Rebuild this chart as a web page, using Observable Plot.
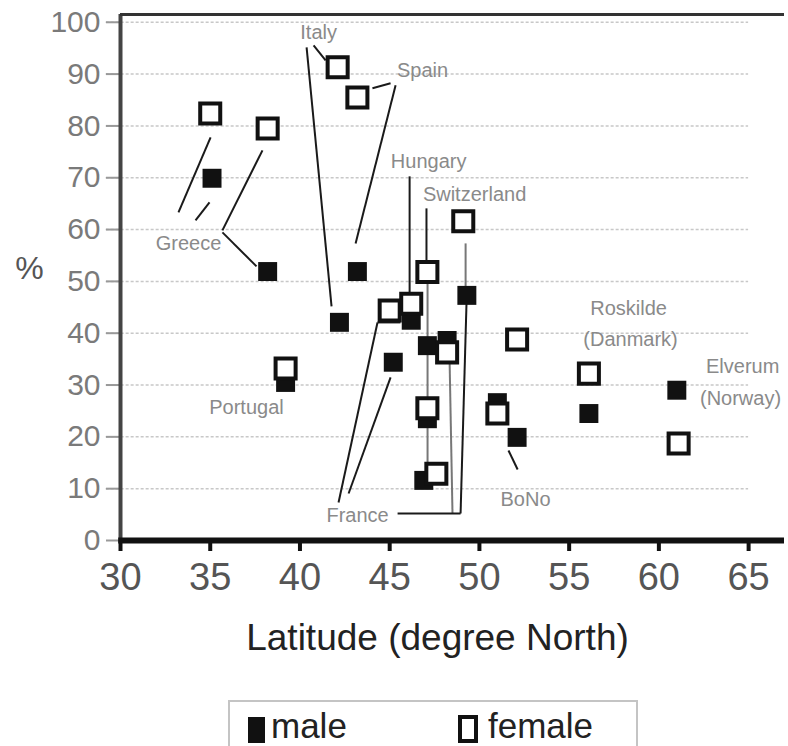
<!DOCTYPE html>
<html><head><meta charset="utf-8">
<script src="https://cdn.jsdelivr.net/npm/d3@7"></script>
<script src="https://cdn.jsdelivr.net/npm/@observablehq/plot@0.6"></script>
<style>
body{margin:0;background:#fff;font-family:"Liberation Sans",Arial,sans-serif;}
#wrap{position:relative;width:788px;height:746px;overflow:hidden;}
#legend{position:absolute;left:228px;top:700px;width:410px;height:60px;border:2px solid #c4c4c4;box-sizing:border-box;background:#fff;}
#legend .sw{position:absolute;box-sizing:border-box;}
#legend .lt{position:absolute;font-size:35px;line-height:35px;color:#222;white-space:nowrap;}
</style></head>
<body><div id="wrap"><div id="chart"></div>
<div id="legend">
  <div class="sw" style="left:18px;top:15px;width:17px;height:26px;background:#111;"></div>
  <div class="lt" style="left:41px;top:6px;">male</div>
  <div class="sw" style="left:228px;top:13px;width:20px;height:28px;border:4px solid #111;background:#fff;"></div>
  <div class="lt" style="left:258px;top:6px;">female</div>
</div></div>
<script>
// ---- data ----
const xTicks = [30, 35, 40, 45, 50, 55, 60, 65];
const yTicks = [0, 10, 20, 30, 40, 50, 60, 70, 80, 90, 100];
const xTitle = "Latitude (degree North)";
const yTitle = "%";

const maleLat = [35.1, 38.2, 43.2, 42.2, 39.2, 46.2, 45.2, 47.1, 48.2, 49.3, 47.1, 46.9, 51.0, 52.1, 56.1, 61.0];
const maleVal = [69.9, 51.9, 51.9, 42.1, 30.5, 42.5, 34.4, 37.6, 38.6, 47.3, 23.5, 11.6, 26.6, 19.9, 24.5, 29.0];
const femaleLat = [35.0, 38.2, 42.1, 43.2, 39.2, 45.0, 46.2, 47.1, 49.1, 48.2, 47.1, 47.6, 51.0, 52.1, 56.1, 61.1];
const femaleVal = [82.4, 79.5, 91.3, 85.5, 33.2, 44.4, 45.7, 51.8, 61.6, 36.3, 25.5, 12.9, 24.5, 38.8, 32.2, 18.7];

const labelNames = ["Italy", "Spain", "Hungary", "Switzerland", "Greece", "Portugal", "France", "Roskilde", "(Danmark)", "Elverum", "(Norway)", "BoNo"];
const labelLat = [41.04, 46.83, 47.17, 49.73, 33.79, 37.02, 43.21, 58.31, 58.42, 64.67, 64.55, 52.57];
const labelPct = [98.07, 90.73, 73.16, 66.8, 57.33, 25.68, 4.83, 44.79, 38.8, 33.59, 27.41, 7.9];

// leader lines [lat1, pct1, lat2, pct2]
const leadersDark = [
  [40.76, 95.56, 41.43, 92.66],
  [40.37, 95.17, 41.76, 45.17],
  [44.04, 87.26, 45.05, 88.22],
  [45.33, 87.84, 43.10, 57.33],
  [33.23, 63.30, 35.02, 77.78],
  [34.18, 61.78, 34.96, 65.25],
  [35.68, 59.85, 37.91, 75.29],
  [35.68, 59.46, 37.58, 52.90],
  [46.11, 70.27, 46.11, 47.10],
  [47.05, 64.09, 47.05, 53.47],
  [49.28, 45.75, 48.95, 5.21],
  [45.44, 5.21, 48.95, 5.21],
  [42.15, 7.34, 44.32, 42.08],
  [44.32, 42.08, 45.6, 42.08],
  [42.71, 9.07, 45.05, 31.47],
  [51.62, 17.37, 52.13, 13.71]
];
const leadersGray = [
  [47.11, 50.19, 47.11, 13.9],
  [49.23, 57.33, 49.23, 48.65],
  [48.34, 34.36, 48.5, 5.21]
];

// ---- tables ----
const male = maleLat.map((d, i) => ({lat: d, pct: maleVal[i]}));
const female = femaleLat.map((d, i) => ({lat: d, pct: femaleVal[i]}));
const labels = labelNames.map((t, i) => ({t, lat: labelLat[i], pct: labelPct[i]}));
const toSeg = a => a.map(([x1, y1, x2, y2]) => ({x1, y1, x2, y2}));
const gridValues = yTicks.filter(v => v > 0);

const chart = Plot.plot({
  width: 788, height: 690,
  marginLeft: 120, marginRight: 4, marginTop: 14, marginBottom: 150,
  style: {fontFamily: '"Liberation Sans", Arial, sans-serif', background: "white", overflow: "visible"},
  x: {domain: [30, 67]},
  y: {domain: [0, 101.5]},
  marks: [
    Plot.ruleY(gridValues, {x1: 29.2, x2: 65, stroke: "#c8c8c8", strokeWidth: 1.5, strokeDasharray: "3,2"}),
    Plot.axisY(yTicks, {tickSize: 14, tickPadding: 6, stroke: "#999", strokeWidth: 2, fill: "#7a7a7a", fontSize: 30, label: null}),
    Plot.axisX(xTicks, {tickSize: 11, tickPadding: 12, stroke: "#111", strokeWidth: 4, fill: "#555", fontSize: 38, label: null}),
    Plot.ruleX([30], {y1: 0, y2: 101.5, stroke: "#444", strokeWidth: 4}),
    Plot.ruleY([101.5], {x1: 30, x2: 67, stroke: "#333", strokeWidth: 3}),
    Plot.ruleY([0], {x1: 29.9, x2: 67, stroke: "#111", strokeWidth: 6}),
    Plot.link(toSeg(leadersGray), {x1: "x1", y1: "y1", x2: "x2", y2: "y2", stroke: "#777", strokeWidth: 2}),
    Plot.link(toSeg(leadersDark), {x1: "x1", y1: "y1", x2: "x2", y2: "y2", stroke: "#1a1a1a", strokeWidth: 2}),
    Plot.text(labels, {x: "lat", y: "pct", text: "t", fill: "#8a8a8a", fontSize: 20}),
    Plot.dot(male, {x: "lat", y: "pct", symbol: "square", r: 10.7, fill: "#111", stroke: "none"}),
    Plot.dot(female, {x: "lat", y: "pct", symbol: "square", r: 11.3, fill: "white", stroke: "#111", strokeWidth: 4}),
    Plot.text([yTitle], {frameAnchor: "left", textAnchor: "middle", dx: -91, dy: -9, fontSize: 32, fill: "#555"}),
    Plot.text([xTitle], {frameAnchor: "bottom", textAnchor: "middle", lineAnchor: "middle", dx: -15, dy: 98, fontSize: 37, fill: "#222"})
  ]
});
document.getElementById("chart").appendChild(chart);
</script></body></html>
